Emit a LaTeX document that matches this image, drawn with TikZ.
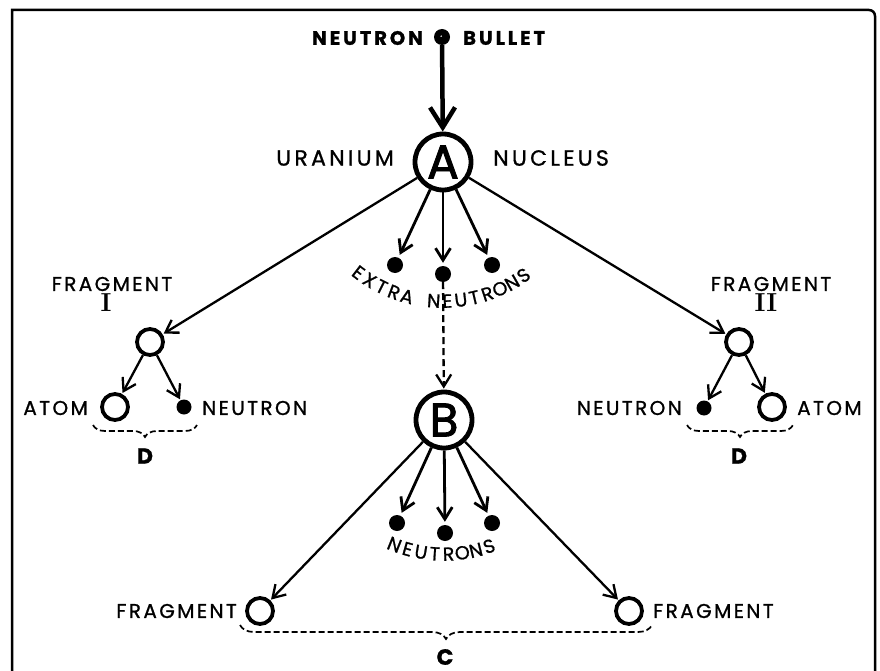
\documentclass[tikz,border=0pt]{standalone}
\usepackage{fontspec}
\newfontfamily\labfont[LetterSpace=12,FakeBold=1]{Poppins}
\newfontfamily\tagfont[LetterSpace=15,FakeBold=1]{Poppins}
\newfontfamily\letterfont[FakeBold=1]{Poppins}
\newfontfamily\circfont[FakeBold=2]{Poppins}
\usetikzlibrary{arrows.meta,decorations.pathreplacing,calc}

\begin{document}
\begin{tikzpicture}[x=1pt,y=1pt,
  nucleus/.style={circle,draw,line width=4.8pt,minimum size=56pt,inner sep=0pt,
    font=\circfont\fontsize{47}{47}\selectfont},
  atomring/.style={circle,draw,line width=3.8pt,minimum size=26pt,inner sep=0pt},
  neutron/.style={circle,fill,minimum size=16pt,inner sep=0pt},
  lbl/.style={inner sep=0pt,font=\labfont\fontsize{20}{20}\selectfont},
  boldlbl/.style={inner sep=0pt,font=\tagfont\bfseries\fontsize{19.5}{19.5}\selectfont},
  bigtag/.style={inner sep=0pt,font=\tagfont\fontsize{22}{22}\selectfont},
  brctag/.style={inner sep=0pt,font=\letterfont\bfseries\fontsize{22}{22}\selectfont},
  numeral/.style={inner sep=0pt,font=\rmfamily\bfseries\fontsize{26}{26}\selectfont},
  curvech/.style={inner sep=0pt,anchor=south,font=\letterfont\fontsize{19}{19}\selectfont},
  arr/.style={line width=2.3pt,-{Straight Barb[length=12pt,width=15pt]},shorten >=1pt},
  narr/.style={line width=2.8pt,-{Straight Barb[length=12pt,width=15pt]},shorten >=3pt},
  bigarr/.style={line width=4.5pt,-{Straight Barb[length=20pt,width=25pt]}},
  dashline/.style={line width=2.3pt,dash pattern=on 7pt off 4pt,
    -{Straight Barb[length=12pt,width=15pt]},shorten >=1pt},
  brc/.style={line width=1.7pt,dash pattern=on 6pt off 3pt,decorate}
]
\useasboundingbox (0,0) rectangle (880,-671);

% frame, open at the bottom
\draw[line width=2.5pt] (12,-671) -- (12,-10) -- (869,-10) arc[start angle=90,end angle=0,radius=6] -- (875,-671);

% incoming neutron
\node[neutron,minimum size=16pt] (bullet) at (442,-37) {};
\fill[white] ($(bullet.center)+(-0.8,0.8)$) circle (0.8pt);
\node[boldlbl,anchor=east] (bulletL) at (423,-38) {NEUTRON};
\node[boldlbl,anchor=west] (bulletR) at (463,-38) {BULLET};

% first nucleus
\node[nucleus] (A) at (443,-162) {A};
\node[bigtag,anchor=east] (uran) at (394,-158) {URANIUM};
\node[bigtag,anchor=west] (nucl) at (493,-158) {NUCLEUS};
\draw[bigarr] (bullet) -- (A);

% extra neutrons from A
\node[neutron] (e1) at (395,-265) {};
\node[neutron] (e2) at (443,-274) {};
\node[neutron] (e3) at (492,-265) {};
\draw[narr] (A) -- (e1);
\draw[narr] (A) -- (e2);
\draw[narr] (A) -- (e3);
% lettering set round the centre of A
\foreach \ch/\k in {E/1,X/2,T/3,R/4,A/5,N/7,E/8,U/9,T/10,R/11,O/12,N/13,S/14}{
  \pgfmathsetmacro\ang{-91+(\k-7.5)*5.6}
  \node[curvech,rotate=\ang+90] (xa\k) at ($(A)+(\ang:146)$) {\ch};
}

% fragment I
\node[atomring] (F1) at (150,-342) {};
\node[lbl] (F1t) at (112,-284) {FRAGMENT};
\node[numeral] (F1n) at (106,-303) {I};
\draw[arr] (A) -- (F1);
\node[atomring] (a1) at (115,-407) {};
\node[neutron,minimum size=15pt] (n1) at (184,-407) {};
\draw[arr] (F1) -- (a1);
\draw[arr] (F1) -- (n1);
\node[lbl,anchor=east] (a1t) at (88,-408) {ATOM};
\node[lbl,anchor=west] (n1t) at (202,-408) {NEUTRON};
\draw[brc,decoration={brace,mirror,amplitude=12pt}] (93,-425) -- (197,-425);
\node[brctag] (D1) at (145,-456) {D};

% fragment II
\node[atomring] (F2) at (739,-342) {};
\node[lbl] (F2t) at (771,-284) {FRAGMENT};
\node[numeral] (F2n) at (766,-303) {II};
\draw[arr] (A) -- (F2);
\node[neutron,minimum size=15pt] (n2) at (704,-408) {};
\node[atomring] (a2) at (772,-407) {};
\draw[arr] (F2) -- (n2);
\draw[arr] (F2) -- (a2);
\node[lbl,anchor=east] (n2t) at (682,-408) {NEUTRON};
\node[lbl,anchor=west] (a2t) at (797,-408) {ATOM};
\draw[brc,decoration={brace,mirror,amplitude=12pt}] (687,-425) -- (793,-425);
\node[brctag] (D2) at (739,-456) {D};

% second nucleus
\node[nucleus] (B) at (444,-420) {B};
\draw[dashline] (e2) -- (B);

\node[neutron] (b1) at (397,-523) {};
\node[neutron] (b2) at (445,-533) {};
\node[neutron] (b3) at (492,-523) {};
\draw[narr] (B) -- (b1);
\draw[narr] (B) -- (b2);
\draw[narr] (B) -- (b3);
\foreach \ch/\k in {N/1,E/2,U/3,T/4,R/5,O/6,N/7,S/8}{
  \pgfmathsetmacro\ang{-91+(\k-4.5)*5.9}
  \node[curvech,rotate=\ang+90] (xb\k) at ($(B)+(\ang:141)$) {\ch};
}

\node[atomring] (G1) at (260,-611) {};
\node[atomring] (G2) at (629,-611) {};
\draw[arr] (B) -- (G1);
\draw[arr] (B) -- (G2);
\node[lbl,anchor=east] (G1t) at (237,-611) {FRAGMENT};
\node[lbl,anchor=west] (G2t) at (653,-611) {FRAGMENT};
\draw[brc,decoration={brace,mirror,amplitude=14pt}] (240,-625) -- (652,-625);
\node[brctag] (Ct) at (445,-657) {C};
\end{tikzpicture}
\end{document}
